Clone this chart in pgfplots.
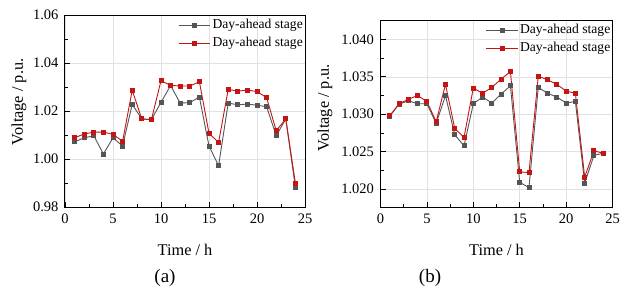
\documentclass[border=0pt]{standalone}
\usepackage{pgfplots}
\pgfplotsset{compat=1.18}
\usepackage{fontspec}
\setmainfont{Liberation Serif}
\definecolor{myred}{RGB}{196,20,20}
\definecolor{mygray}{RGB}{85,85,85}
\definecolor{mygrid}{RGB}{225,225,225}

\pgfplotsset{
  myaxis/.style={
    scale only axis,
    axis line style={line width=1pt},
    tick align=inside,
    xtick pos=bottom, ytick pos=left,
    major tick length=5pt, minor tick length=3pt,
    every tick/.style={black, line width=0.8pt},
    xmin=0, xmax=25, xtick={0,5,...,25}, minor x tick num=1,
    minor y tick num=1,
    grid=major, major grid style={mygrid, line width=0.6pt},
    tick label style={font=\fontsize{14.5}{16}\selectfont},
    label style={font=\fontsize{16.3}{18}\selectfont},
    /pgf/number format/assume math mode=true,
    xticklabel style={yshift=-3pt},
    yticklabel style={xshift=-3pt},
    legend style={at={(1,1)}, anchor=north east, draw=none, fill=none,
      font=\fontsize{13.6}{15}\selectfont, inner xsep=0pt, inner ysep=2pt,
      nodes={text height=9.5pt, text depth=3pt},
      row sep=1pt, legend cell align=left},
    legend image code/.code={\draw[mark repeat=2,mark phase=2] plot coordinates {(0cm,0cm) (0.55cm,0cm) (1.1cm,0cm)};},
    clip=false,
  },
  grayline/.style={mygray, line width=0.9pt, mark=square*, mark size=2pt, mark options={solid, fill=mygray}},
  redline/.style={myred, line width=0.9pt, mark=square*, mark size=2pt, mark options={solid, fill=myred}},
}

\begin{document}
\begin{tikzpicture}[x=1pt,y=1pt]
\path[use as bounding box] (0,0) rectangle (626,290);

\begin{axis}[myaxis,
  at={(65pt,83pt)}, anchor=south west,
  width=240pt, height=192pt,
  ymin=0.98, ymax=1.06, ytick={0.98,1.00,...,1.06},
  yticklabel style={/pgf/number format/.cd, fixed, fixed zerofill, precision=2},
  xlabel={Time / h}, ylabel={Voltage / p.u.},
  xlabel style={at={(axis description cs:0.5,-0.224)}, anchor=center},
  ylabel style={at={(axis description cs:-0.192,0.547)}, anchor=center},
]
\addplot[grayline] coordinates {
(1,1.0072)(2,1.0088)(3,1.0097)(4,1.0021)(5,1.0088)(6,1.0054)(7,1.0228)(8,1.0167)
(9,1.0164)(10,1.0236)(11,1.0306)(12,1.0233)(13,1.0235)(14,1.0258)(15,1.0054)(16,0.9972)
(17,1.0233)(18,1.0226)(19,1.0229)(20,1.0224)(21,1.0218)(22,1.0097)(23,1.0167)(24,0.9882)};
\addlegendentry{Day-ahead stage}
\addplot[redline] coordinates {
(1,1.0089)(2,1.0104)(3,1.0112)(4,1.0112)(5,1.0103)(6,1.0074)(7,1.0286)(8,1.0167)
(9,1.0164)(10,1.0326)(11,1.0307)(12,1.0304)(13,1.0304)(14,1.0322)(15,1.0107)(16,1.0069)
(17,1.0290)(18,1.0283)(19,1.0287)(20,1.0281)(21,1.0256)(22,1.0118)(23,1.0167)(24,0.9899)};
\addlegendentry{Day-ahead stage}
\end{axis}

\begin{axis}[myaxis,
  at={(380.5pt,83pt)}, anchor=south west,
  width=232pt, height=187pt,
  ymin=1.0176, ymax=1.0426, ytick={1.020,1.025,...,1.040},
  yticklabel style={/pgf/number format/.cd, fixed, fixed zerofill, precision=3},
  xlabel={Time / h}, ylabel={Voltage / p.u.},
  xlabel style={at={(axis description cs:0.5,-0.230)}, anchor=center},
  ylabel style={at={(axis description cs:-0.239,0.53)}, anchor=center},
]
\addplot[grayline] coordinates {
(1,1.02975)(2,1.03135)(3,1.0318)(4,1.0314)(5,1.0314)(6,1.02877)(7,1.0325)(8,1.02725)
(9,1.02578)(10,1.0314)(11,1.0323)(12,1.0315)(13,1.0327)(14,1.0338)(15,1.0209)(16,1.0202)
(17,1.0336)(18,1.0328)(19,1.0323)(20,1.0315)(21,1.0317)(22,1.0208)(23,1.0245)(24,1.0248)};
\addlegendentry{Day-ahead stage}
\addplot[redline] coordinates {
(1,1.0298)(2,1.0314)(3,1.0320)(4,1.0325)(5,1.0317)(6,1.0290)(7,1.0340)(8,1.0281)
(9,1.0269)(10,1.0335)(11,1.0328)(12,1.0336)(13,1.0347)(14,1.0357)(15,1.0223)(16,1.0222)
(17,1.0351)(18,1.0346)(19,1.0340)(20,1.0331)(21,1.0328)(22,1.0216)(23,1.0251)(24,1.0248)};
\addlegendentry{Day-ahead stage}
\end{axis}

\node[font=\fontsize{19}{21}\selectfont] at (165,12) {(a)};
\node[font=\fontsize{19}{21}\selectfont] at (430,12) {(b)};
\end{tikzpicture}
\end{document}
